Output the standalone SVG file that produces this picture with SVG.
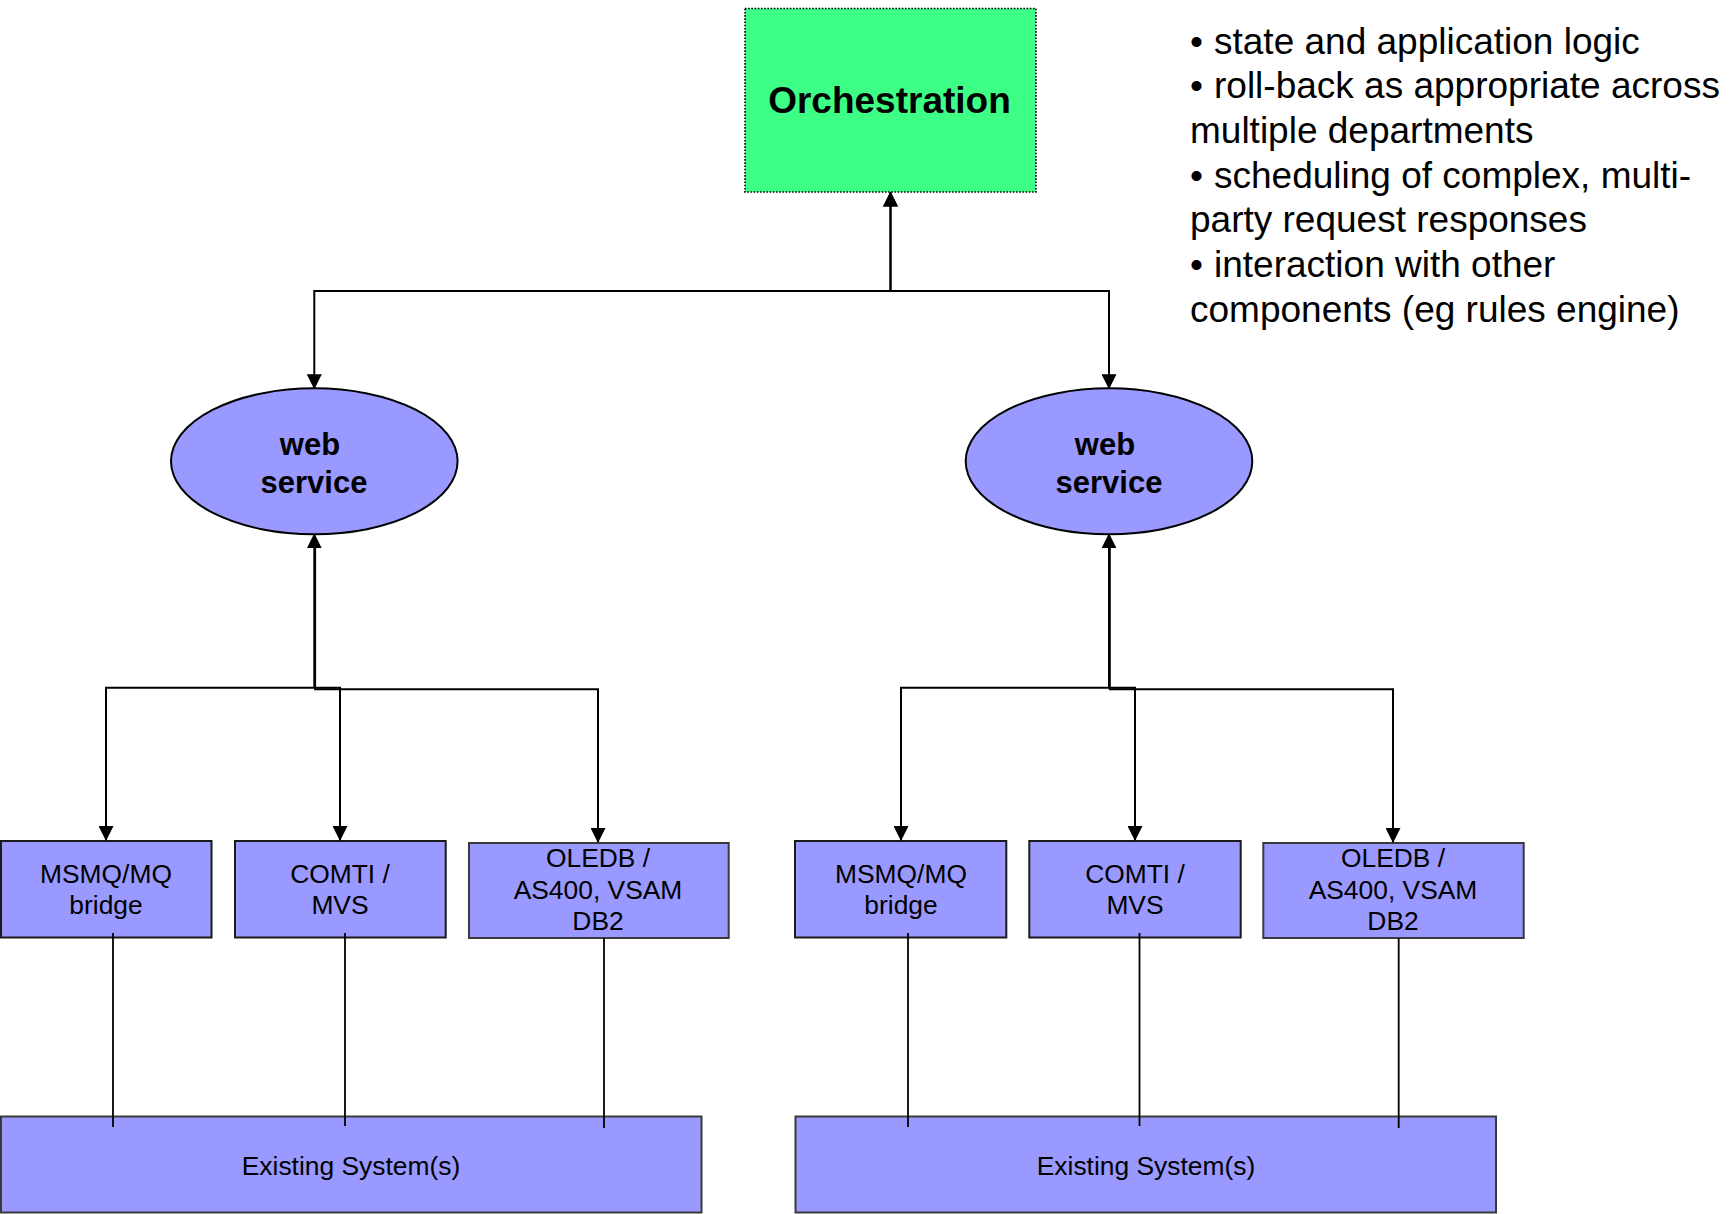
<svg xmlns="http://www.w3.org/2000/svg" width="1736" height="1214" viewBox="0 0 1736 1214">
  <style>
    text { font-family: "Liberation Sans", Arial, Helvetica, sans-serif; fill: #000; }
    .bold { font-weight: bold; }
    .title { font-size: 37px; text-anchor: middle; }
    .ws { font-size: 31px; text-anchor: middle; }
    .lbl { font-size: 26.4px; text-anchor: middle; }
    .note { font-size: 37px; }
    .orch { fill: #3DFF85; stroke: #000; stroke-width: 1.6; stroke-dasharray: 1.6 1.6; }
    .svc { fill: #9999FF; stroke: #000; stroke-width: 2; }
    .box { fill: #9999FF; stroke: #1a1a1a; stroke-width: 2; }
    .box2 { fill: #9999FF; stroke: #3a3a3a; stroke-width: 2; }
    .wire { fill: none; stroke: #000; stroke-width: 2; }
    .link { fill: none; stroke: #000; stroke-width: 1.8; }
  </style>
  <defs>
    <marker id="arrow" viewBox="0 0 15 15" refX="14" refY="7.5" markerWidth="15" markerHeight="15" markerUnits="userSpaceOnUse" orient="auto-start-reverse">
      <path d="M0,0 L15,7.5 L0,15 Z" fill="#000"/>
    </marker>
  </defs>

  <rect width="1736" height="1214" fill="#fff"/>

  <!-- top-level coordinator -->
  <g id="orchestration">
    <rect class="orch" x="745" y="8.5" width="291" height="183.5"/>
    <text class="title bold" x="889.5" y="113">Orchestration</text>
  </g>

  <!-- notes on the orchestration layer -->
  <g id="notes">
    <text class="note">
      <tspan x="1190" y="53.5">•</tspan><tspan x="1214" y="53.5">state and application logic</tspan>
      <tspan x="1190" y="98.2">•</tspan><tspan x="1214" y="98.2">roll-back as appropriate across</tspan>
      <tspan x="1190" y="142.9">multiple departments</tspan>
      <tspan x="1190" y="187.6">•</tspan><tspan x="1214" y="187.6">scheduling of complex, multi-</tspan>
      <tspan x="1190" y="232.3">party request responses</tspan>
      <tspan x="1190" y="277">•</tspan><tspan x="1214" y="277">interaction with other</tspan>
      <tspan x="1190" y="321.7">components (eg rules engine)</tspan>
    </text>
  </g>

  <!-- web services -->
  <g id="ws-left">
    <ellipse class="svc" cx="314.3" cy="461.3" rx="143.3" ry="73"/>
    <text class="ws bold" x="310" y="455">web</text>
    <text class="ws bold" x="314" y="493">service</text>
  </g>
  <g id="ws-right">
    <ellipse class="svc" cx="1109" cy="461.3" rx="143.3" ry="73"/>
    <text class="ws bold" x="1105" y="455">web</text>
    <text class="ws bold" x="1109" y="493">service</text>
  </g>

  <!-- adapters, left stack -->
  <g id="msmq-left">
    <rect class="box" x="1" y="841" width="210.5" height="96.5"/>
    <text class="lbl" x="106" y="883">MSMQ/MQ</text>
    <text class="lbl" x="106" y="914">bridge</text>
  </g>
  <g id="comti-left">
    <rect class="box" x="235" y="841" width="210.7" height="96.5"/>
    <text class="lbl" x="340" y="883">COMTI /</text>
    <text class="lbl" x="340" y="914">MVS</text>
  </g>
  <g id="oledb-left">
    <rect class="box2" x="469" y="843" width="259.7" height="95"/>
    <text class="lbl" x="598" y="867">OLEDB /</text>
    <text class="lbl" x="598" y="898.5">AS400, VSAM</text>
    <text class="lbl" x="598" y="930">DB2</text>
  </g>

  <!-- adapters, right stack -->
  <g id="msmq-right">
    <rect class="box" x="795" y="841" width="211.3" height="96.5"/>
    <text class="lbl" x="901" y="883">MSMQ/MQ</text>
    <text class="lbl" x="901" y="914">bridge</text>
  </g>
  <g id="comti-right">
    <rect class="box" x="1029.3" y="841" width="211.4" height="96.5"/>
    <text class="lbl" x="1135" y="883">COMTI /</text>
    <text class="lbl" x="1135" y="914">MVS</text>
  </g>
  <g id="oledb-right">
    <rect class="box2" x="1263.3" y="843" width="260.4" height="95"/>
    <text class="lbl" x="1393" y="867">OLEDB /</text>
    <text class="lbl" x="1393" y="898.5">AS400, VSAM</text>
    <text class="lbl" x="1393" y="930">DB2</text>
  </g>

  <!-- back-end systems -->
  <g id="existing-left">
    <rect class="box2" x="1" y="1116.5" width="700.5" height="96"/>
    <text class="lbl" x="351" y="1175">Existing System(s)</text>
  </g>
  <g id="existing-right">
    <rect class="box2" x="795.5" y="1116.5" width="700.5" height="96"/>
    <text class="lbl" x="1146" y="1175">Existing System(s)</text>
  </g>

  <!-- connectors -->
  <g id="connectors">
    <!-- orchestration to web services -->
    <path class="wire" marker-start="url(#arrow)" marker-end="url(#arrow)" d="M890.5,192.5 V291 H314.3 V388.3"/>
    <path class="wire" marker-start="url(#arrow)" marker-end="url(#arrow)" d="M890.5,192.5 V291 H1109 V388.3"/>

    <!-- left web service to its adapters -->
    <path class="wire" marker-start="url(#arrow)" marker-end="url(#arrow)" d="M314.3,534.3 V687.7 H106 V840"/>
    <path class="wire" marker-end="url(#arrow)" d="M314.3,687.7 H340 V840"/>
    <path class="wire" marker-end="url(#arrow)" d="M315.1,546 V689.3 H598 V842"/>

    <!-- right web service to its adapters -->
    <path class="wire" marker-start="url(#arrow)" marker-end="url(#arrow)" d="M1109,534.3 V687.7 H901 V840"/>
    <path class="wire" marker-end="url(#arrow)" d="M1109,687.7 H1135 V840"/>
    <path class="wire" marker-end="url(#arrow)" d="M1109.8,546 V689.3 H1393 V842"/>

    <!-- adapters down to existing systems -->
    <path class="link" d="M113,933 V1127"/>
    <path class="link" d="M345,933 V1126"/>
    <path class="link" d="M604,938 V1128"/>
    <path class="link" d="M908,933 V1127"/>
    <path class="link" d="M1139.5,933 V1126"/>
    <path class="link" d="M1398.7,938 V1128"/>
  </g>
</svg>
